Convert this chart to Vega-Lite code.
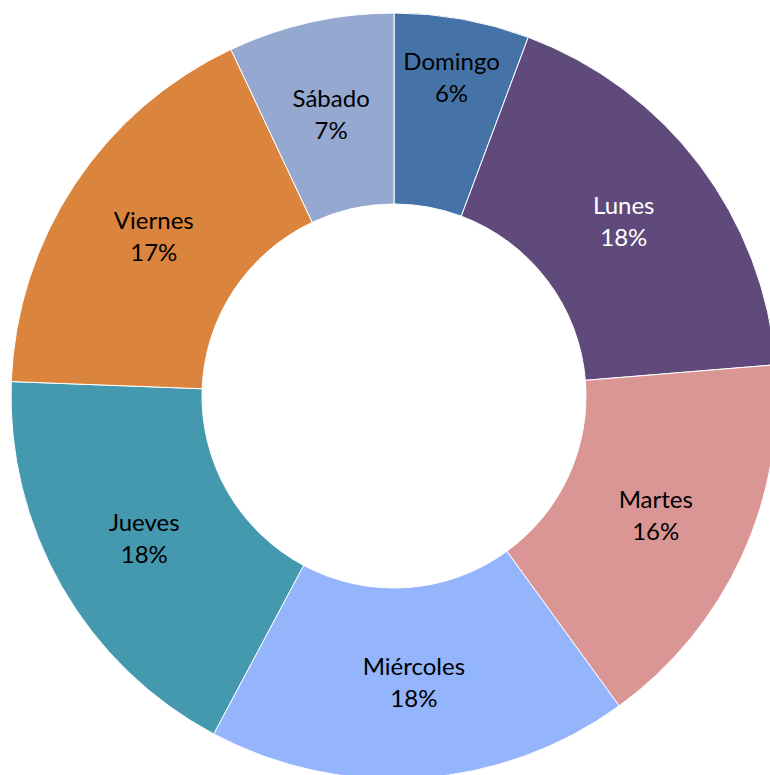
{
  "$schema": "https://vega.github.io/schema/vega-lite/v6.json",
  "width": 752,
  "height": 758,
  "padding": {"left": 18, "top": 17, "right": 0, "bottom": 0},
  "autosize": {"type": "none"},
  "background": "white",
  "view": {"stroke": null},
  "data": {
    "values": [
      {"dia": "Domingo", "orden": 1, "valor": 5.7},
      {"dia": "Lunes", "orden": 2, "valor": 18.0},
      {"dia": "Martes", "orden": 3, "valor": 16.3},
      {"dia": "Miércoles", "orden": 4, "valor": 17.8},
      {"dia": "Jueves", "orden": 5, "valor": 17.8},
      {"dia": "Viernes", "orden": 6, "valor": 17.4},
      {"dia": "Sábado", "orden": 7, "valor": 7.0}
    ]
  },
  "transform": [
    {"stack": "valor", "groupby": [], "sort": [{"field": "orden", "order": "ascending"}], "as": ["v0", "v1"]},
    {"joinaggregate": [{"op": "sum", "field": "valor", "as": "total"}]},
    {"calculate": "(datum.v0 + datum.v1) / 2", "as": "medio"},
    {"calculate": "datum.dia + '\\n' + format(datum.valor / datum.total, '.0%')", "as": "etiqueta"}
  ],
  "layer": [
    {
      "mark": {"type": "arc", "outerRadius": 383, "innerRadius": 192, "stroke": "white", "strokeWidth": 1},
      "encoding": {
        "theta": {"field": "v0", "type": "quantitative", "scale": {"domain": [0, 100]}},
        "theta2": {"field": "v1"},
        "color": {
          "field": "dia",
          "type": "nominal",
          "legend": null,
          "scale": {
            "domain": ["Domingo", "Lunes", "Martes", "Miércoles", "Jueves", "Viernes", "Sábado"],
            "range": ["#4573a7", "#604a7b", "#da9694", "#94b4fc", "#4499ae", "#da843d", "#95a9d0"]
          }
        }
      }
    },
    {
      "transform": [{"filter": "datum.dia !== 'Domingo'"}],
      "mark": {"type": "text", "radius": 288, "dy": -15, "font": "Lato", "fontSize": 24, "lineBreak": "\n", "lineHeight": 32, "align": "center", "baseline": "middle"},
      "encoding": {
        "theta": {"field": "medio", "type": "quantitative", "stack": null, "scale": {"domain": [0, 100]}},
        "text": {"field": "etiqueta", "type": "nominal"},
        "color": {"condition": {"test": "datum.dia === 'Lunes'", "value": "white"}, "value": "black"}
      }
    },
    {
      "transform": [{"filter": "datum.dia === 'Domingo'"}],
      "mark": {"type": "text", "radius": 323, "dy": -15, "font": "Lato", "fontSize": 24, "lineBreak": "\n", "lineHeight": 32, "align": "center", "baseline": "middle", "color": "black"},
      "encoding": {
        "theta": {"field": "medio", "type": "quantitative", "stack": null, "scale": {"domain": [0, 100]}},
        "text": {"field": "etiqueta", "type": "nominal"}
      }
    }
  ]
}
